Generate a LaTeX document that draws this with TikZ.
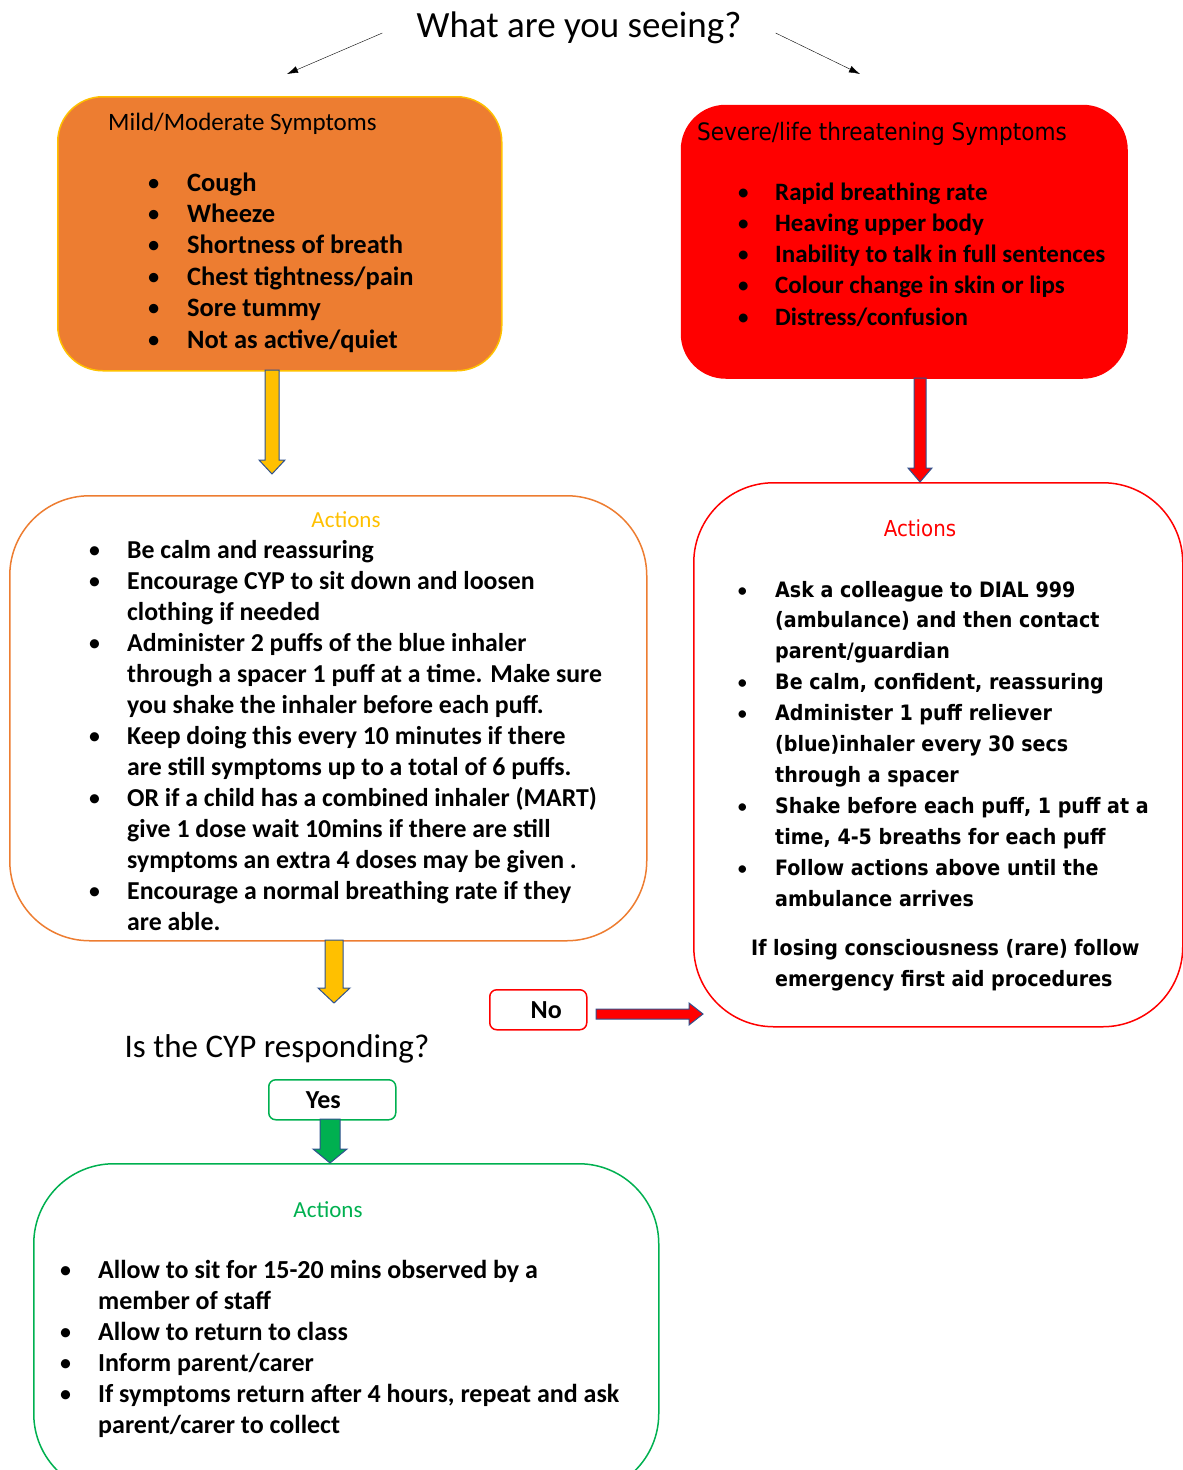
\documentclass[tikz,border=0pt]{standalone}
\usepackage{fontspec}
\setmainfont{Carlito}
\newfontfamily\tahomafont{DejaVu Sans Condensed}
\usetikzlibrary{positioning,calc,arrows.meta}

\definecolor{mildfill}{HTML}{ED7D31}
\definecolor{mildgold}{HTML}{FFC000}
\definecolor{severered}{HTML}{FF0000}
\definecolor{okgreen}{HTML}{00B050}
\definecolor{arrowblue}{HTML}{2F528F}

% bullet cell of the lists
\newcommand\bl{{\normalfont\textbullet}&}

% block arrows, from #2 to #3: half shaft #4, half head #5, head length #6
\newcommand\blockdown[6]{%
  \draw[blockarrow,#1] let \p1=(#2), \p2=(#3) in
    (\x1-#4pt,\y1) -- (\x1+#4pt,\y1) -- (\x1+#4pt,\y2+#6pt) -- (\x1+#5pt,\y2+#6pt)
    -- (\x1,\y2) -- (\x1-#5pt,\y2+#6pt) -- (\x1-#4pt,\y2+#6pt) -- cycle;}
\newcommand\blockright[6]{%
  \draw[blockarrow,#1] let \p1=(#2), \p2=(#3) in
    (\x1,\y1+#4pt) -- (\x1,\y1-#4pt) -- (\x2-#6pt,\y1-#4pt) -- (\x2-#6pt,\y1-#5pt)
    -- (\x2,\y1) -- (\x2-#6pt,\y1+#5pt) -- (\x2-#6pt,\y1+#4pt) -- cycle;}

\tikzset{
  symbox/.style={anchor=north west,inner sep=0pt,rounded corners=45pt,line width=1.5pt},
  actbox/.style={draw,anchor=north west,inner sep=0pt,rounded corners=80pt,line width=1.5pt},
  answerbox/.style={draw,anchor=north west,inner sep=0pt,rounded corners=7pt,line width=1.5pt},
  heading/.style={anchor=base west,inner sep=0pt},
  acttitle/.style={anchor=base,inner sep=0pt},
  bullets/.style={anchor=base west,inner sep=0pt},
  blockarrow/.style={draw=arrowblue,line width=1pt,line join=miter},
}

\begin{document}
\begin{tikzpicture}[x=1pt,y=-1pt,>={Latex[length=11pt,width=7pt]}]
\clip (0,0) rectangle (1183,1470);
%% question and the two ways
\node (seeing) at (579,37) [anchor=base,inner sep=0pt,font=\fontsize{37}{44}\selectfont] {What are you seeing?};
\coordinate (mild_tip) at (287,74);
\coordinate (severe_tip) at (860,74);
\draw [->] ([shift={(-34pt,4pt)}]seeing.base west) -- (mild_tip);
\draw [->] ([shift={(34pt,4pt)}]seeing.base east) -- (severe_tip);
%% symptom boxes
\node (mild_box) at (57,96) [symbox,draw=mildgold,fill=mildfill,minimum width=444pt,minimum height=274pt] {};
\node (mild_head) at (108,130) [heading,font=\fontsize{25}{30}\selectfont] {Mild/Moderate Symptoms};
\node (mild_list) at (147,191) [bullets,font=\fontsize{26.5}{31.4}\selectfont\bfseries]
  {\begin{tabular}[t]{@{}p{40pt}@{}l@{}}
   \bl Cough\\ \bl Wheeze\\ \bl Shortness of breath\\ \bl Chest tightness/pain\\
   \bl Sore tummy\\ \bl Not as active/quiet
   \end{tabular}};
\node (severe_box) at (680,104) [symbox,fill=severered,minimum width=447pt,minimum height=274pt] {};
\node (severe_head) at (697,140) [heading,font=\tahomafont\fontsize{24}{28}\selectfont] {Severe/life threatening Symptoms};
\node (severe_list) at (737,200) [bullets,font=\fontsize{25}{31.25}\selectfont\bfseries]
  {\begin{tabular}[t]{@{}p{38pt}@{}l@{}}
   \bl Rapid breathing rate\\ \bl Heaving upper body\\ \bl Inability to talk in full sentences\\
   \bl Colour change in skin or lips\\ \bl Distress/confusion
   \end{tabular}};
%% action boxes
\node (mild_act) at (9,495) [actbox,draw=mildfill,minimum width=637pt,minimum height=445pt] {};
\node (mild_act_title) at (346,527) [acttitle,text=mildgold,font=\fontsize{23}{28}\selectfont] {Actions};
\node (mild_act_list) at (88,558) [bullets,font=\fontsize{25.8}{31}\selectfont\bfseries]
  {\begin{tabular}[t]{@{}p{39pt}@{}l@{}}
   \bl Be calm and reassuring\\
   \bl Encourage CYP to sit down and loosen\\ & clothing if needed\\
   \bl Administer 2 puffs of the blue inhaler\\ & through a spacer 1 puff at a time. Make sure\\
     & you shake the inhaler before each puff.\\
   \bl Keep doing this every 10 minutes if there\\ & are still symptoms up to a total of 6 puffs.\\
   \bl OR if a child has a combined inhaler (MART)\\ & give 1 dose wait 10mins if there are still\\
     & symptoms an extra 4 doses may be given .\\
   \bl Encourage a normal breathing rate if they\\ & are able.
   \end{tabular}};
\node (severe_act) at (693,482) [actbox,draw=severered,minimum width=489pt,minimum height=544pt] {};
\node (severe_act_title) at (920,536) [acttitle,text=severered,font=\tahomafont\fontsize{22}{26}\selectfont] {Actions};
\node (severe_act_list) at (737,597) [bullets,font=\tahomafont\fontsize{21.2}{30.9}\selectfont\bfseries]
  {\begin{tabular}[t]{@{}p{38pt}@{}l@{}}
   \bl Ask a colleague to DIAL 999\\ & (ambulance) and then contact\\ & parent/guardian\\
   \bl Be calm, confident, reassuring\\
   \bl Administer 1 puff reliever\\ & (blue)inhaler every 30 secs\\ & through a spacer\\
   \bl Shake before each puff, 1 puff at a\\ & time, 4-5 breaths for each puff\\
   \bl Follow actions above until the\\ & ambulance arrives
   \end{tabular}};
\node (severe_note) at (751,955) [bullets,font=\tahomafont\fontsize{21.2}{31}\selectfont\bfseries]
  {\begin{tabular}[t]{@{}l@{}}
   If losing consciousness (rare) follow\\ \hspace{24pt}emergency first aid procedures
   \end{tabular}};
%% is the CYP responding
\node (responding) at (277,1057) [anchor=base,inner sep=0pt,font=\fontsize{33}{39}\selectfont] {Is the CYP responding?};
\node (no_box) at (489,989) [answerbox,draw=severered,minimum width=97pt,minimum height=40pt,font=\fontsize{26}{31}\selectfont\bfseries] {\hspace*{16pt}No};
\node (yes_box) at (268,1079) [answerbox,draw=okgreen,minimum width=127pt,minimum height=40pt,font=\fontsize{26}{31}\selectfont\bfseries] {Yes\hspace*{18pt}};
\node (ok_act) at (33,1163) [actbox,draw=okgreen,minimum width=625pt,minimum height=330pt] {};
\node (ok_act_title) at (328,1217) [acttitle,text=okgreen,font=\fontsize{23}{28}\selectfont] {Actions};
\node (ok_act_list) at (59,1278) [bullets,font=\fontsize{26}{31}\selectfont\bfseries]
  {\begin{tabular}[t]{@{}p{39pt}@{}l@{}}
   \bl Allow to sit for 15-20 mins observed by a\\ & member of staff\\
   \bl Allow to return to class\\
   \bl Inform parent/carer\\
   \bl If symptoms return after 4 hours, repeat and ask\\ & parent/carer to collect
   \end{tabular}};
%% block arrows
\coordinate (mild_out) at (272,370);
\coordinate (mild_in) at (272,474);
\coordinate (severe_out) at (920,378);
\coordinate (act_out) at (334,940);
\coordinate (act_in) at (334,1003);
\coordinate (yes_out) at (330,1119);
\coordinate (no_out) at (596,1014);
\coordinate (no_in) at (703,1014);
\blockdown{fill=mildgold}{mild_out}{mild_in}{7}{13}{14}
\blockdown{fill=severered}{severe_out}{severe_out |- severe_act.north}{6}{12}{14}
\blockdown{fill=mildgold}{act_out}{act_in}{9}{16}{15}
\blockdown{fill=okgreen}{yes_out}{yes_out |- ok_act.north}{10}{17}{14}
\blockright{fill=severered}{no_out}{no_in}{5}{11}{14}
\end{tikzpicture}
\end{document}
